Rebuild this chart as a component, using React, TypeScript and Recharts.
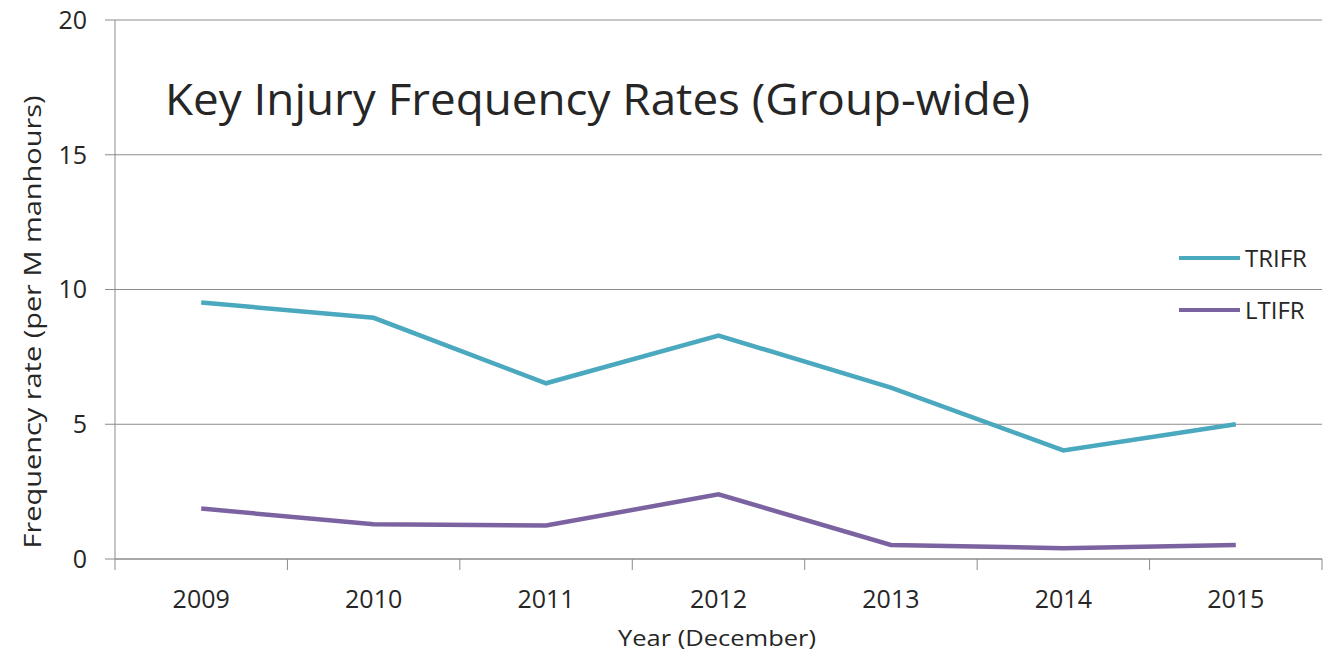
import React from "react";
import { LineChart, Line, XAxis, YAxis, CartesianGrid, Legend } from "recharts";

const years = ["2009", "2010", "2011", "2012", "2013", "2014", "2015"];
const trifr = [9.52, 8.95, 6.52, 8.29, 6.36, 4.03, 5.0];
const ltifr = [1.87, 1.29, 1.24, 2.4, 0.52, 0.4, 0.52];
const yTicks = [0, 5, 10, 15, 20];

const TITLE = "Key Injury Frequency Rates (Group-wide)";
const Y_LABEL = "Frequency rate (per M manhours)";
const X_LABEL = "Year (December)";

const TEAL = "#4aa8bf";
const PURPLE = "#7b62a0";
const GRID = "#8c8c8c";
const TEXT = "#262626";
const FONT = "'Open Sans', sans-serif";

const W = 1332;
const H = 654;
const LEFT = 115;
const RIGHT = 10;
const TOP = 20;
const BOTTOM = 95;
const HALF_BAND = (W - LEFT - RIGHT) / years.length / 2;

const data = years.map((y, i) => ({ year: y, TRIFR: trifr[i], LTIFR: ltifr[i] }));

const XTick = (props: any) => {
  const { x, y, payload, index } = props;
  const half = payload && payload.offset ? payload.offset : HALF_BAND;
  const last = index === years.length - 1;
  return (
    <g>
      <line x1={x - half} x2={x - half} y1={y} y2={y + 11} stroke={GRID} strokeWidth={1} />
      {last && <line x1={x + half} x2={x + half} y1={y} y2={y + 11} stroke={GRID} strokeWidth={1} />}
      <text x={x} y={y + 39} textAnchor="middle" dominantBaseline="central" fontSize={25} fontFamily={FONT} fill={TEXT}>
        {payload.value}
      </text>
    </g>
  );
};

const LegendContent = () => {
  const items = [
    { name: "TRIFR", color: TEAL },
    { name: "LTIFR", color: PURPLE },
  ];
  return (
    <div style={{ fontFamily: FONT }}>
      {items.map((it) => (
        <div key={it.name} style={{ display: "flex", alignItems: "center", height: 52 }}>
          <div style={{ width: 61, height: 4.5, background: it.color, marginRight: 5 }} />
          <span style={{ fontSize: 24, color: TEXT, lineHeight: "30px" }}>{it.name}</span>
        </div>
      ))}
    </div>
  );
};

export default function App() {
  return (
    <div style={{ position: "absolute", left: 0, top: 0, width: W, height: H, background: "#fff" }}>
      <LineChart width={W} height={H} data={data} margin={{ top: TOP, right: RIGHT, left: 0, bottom: 0 }}>
        <CartesianGrid horizontal={true} vertical={false} stroke={GRID} strokeWidth={1} />
        <XAxis
          dataKey="year"
          scale="band"
          height={BOTTOM}
          axisLine={{ stroke: GRID, strokeWidth: 1 }}
          tickLine={false}
          tickSize={0}
          tickMargin={0}
          interval={0}
          tick={<XTick />}
        />
        <YAxis
          width={LEFT}
          domain={[0, 20]}
          ticks={yTicks}
          interval={0}
          axisLine={{ stroke: GRID, strokeWidth: 1 }}
          tickLine={{ stroke: GRID, strokeWidth: 1 }}
          tickSize={10}
          tickMargin={18}
          tick={{ fontSize: 25, fontFamily: FONT, fill: TEXT }}
        />
        <Legend
          layout="vertical"
          align="center"
          verticalAlign="middle"
          content={<LegendContent />}
          wrapperStyle={{ position: "absolute", left: 1179, top: 232, width: 150 }}
        />
        <Line type="linear" dataKey="TRIFR" stroke={TEAL} strokeWidth={4.5} dot={false} activeDot={false} isAnimationActive={false} />
        <Line type="linear" dataKey="LTIFR" stroke={PURPLE} strokeWidth={4.5} dot={false} activeDot={false} isAnimationActive={false} />
      </LineChart>
      <svg width={W} height={H} style={{ position: "absolute", left: 0, top: 0, pointerEvents: "none" }}>
        <text x={165} y={115} fontSize={44} fontFamily={FONT} fill={TEXT} textLength={865} lengthAdjust="spacingAndGlyphs">
          {TITLE}
        </text>
        <text
          x={0}
          y={0}
          transform="translate(41 322) rotate(-90)"
          textAnchor="middle"
          fontSize={23}
          fontFamily={FONT}
          fill={TEXT}
          textLength={453}
          lengthAdjust="spacingAndGlyphs"
        >
          {Y_LABEL}
        </text>
        <text x={717} y={646} textAnchor="middle" fontSize={22} fontFamily={FONT} fill={TEXT} textLength={198} lengthAdjust="spacingAndGlyphs">
          {X_LABEL}
        </text>
      </svg>
    </div>
  );
}
